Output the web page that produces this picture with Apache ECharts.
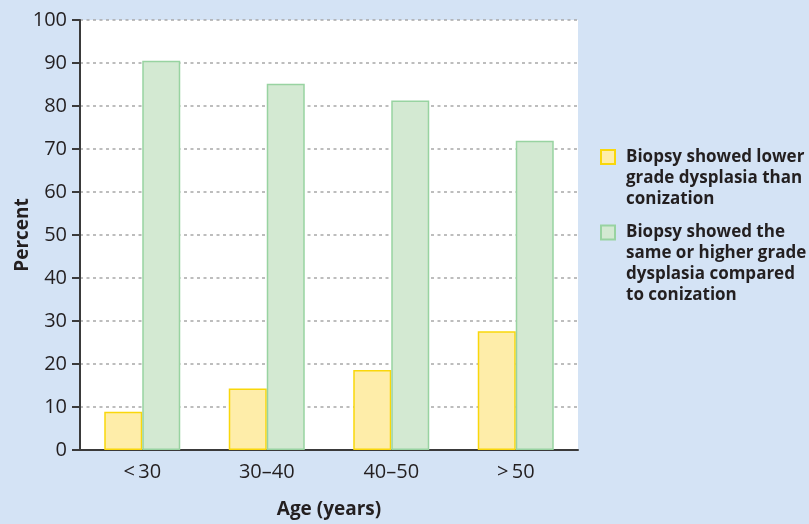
<!DOCTYPE html>
<html>
<head>
<meta charset="utf-8">
<script src="https://cdn.jsdelivr.net/npm/echarts@6/dist/echarts.min.js"></script>
<style>
html,body{margin:0;padding:0;background:#d4e3f5;}
#chart{width:809px;height:524px;}
</style>
</head>
<body>
<div id="chart"></div>
<script>
const categories = ['<\u200930', '30\u201340', '40\u201350', '>\u200950'];
const lowerGrade = [8.9, 14.3, 18.6, 27.6];
const sameOrHigher = [90.5, 85.2, 81.3, 71.9];
const yTicks = [0, 10, 20, 30, 40, 50, 60, 70, 80, 90, 100];
const seriesNames = [
  'Biopsy showed lower\ngrade dysplasia than\nconization',
  'Biopsy showed the\nsame or higher grade\ndysplasia compared\nto conization'
];

const font = 'Open Sans';
const textColor = '#231f20';
const lineH = 21;
const maxLines = 4;
const boxH = maxLines * lineH;
// legend icon: 14px square aligned with the first text line of each entry
function iconFor(name) {
  const lines = name.split('\n').length;
  const top = (boxH - lines * lineH) / 2 + (lineH - 14) / 2;
  return 'path://M0 0 M0 ' + top + ' h14 v14 h-14 Z M20 ' + boxH;
}

const chart = echarts.init(document.getElementById('chart'));
chart.setOption({
  backgroundColor: '#d4e3f5',
  animation: false,
  grid: {left: 80, right: 231, top: 20, bottom: 74, show: true, backgroundColor: '#ffffff', borderWidth: 0,
         containLabel: false, outerBoundsMode: 'none'},
  legend: {
    orient: 'vertical',
    left: 595,
    top: 130,
    itemWidth: 20,
    itemHeight: boxH,
    itemGap: 0,
    textStyle: {fontFamily: font, fontWeight: 'bold', fontSize: 17, color: textColor, lineHeight: lineH},
    data: seriesNames.map(function (n) {
      return {name: n, icon: iconFor(n)};
    })
  },
  xAxis: {
    type: 'category',
    data: categories,
    name: 'Age (years)',
    nameLocation: 'middle',
    nameGap: 50,
    nameTextStyle: {fontFamily: font, fontWeight: 'bold', fontSize: 19, color: textColor},
    axisLine: {lineStyle: {color: '#3a3a3a', width: 2}},
    axisTick: {length: 8, lineStyle: {color: '#3a3a3a', width: 2}},
    axisLabel: {fontFamily: font, fontSize: 20, color: textColor, margin: 12}
  },
  yAxis: {
    type: 'value',
    min: yTicks[0],
    max: yTicks[yTicks.length - 1],
    interval: 10,
    name: 'Percent',
    nameLocation: 'middle',
    nameGap: 48,
    nameMoveOverlap: false,
    nameTextStyle: {fontFamily: font, fontWeight: 'bold', fontSize: 19, color: textColor},
    axisLine: {show: true, lineStyle: {color: '#3a3a3a', width: 2}},
    axisTick: {show: true, length: 8, lineStyle: {color: '#3a3a3a', width: 2}},
    axisLabel: {fontFamily: font, fontSize: 20, color: textColor, margin: 13},
    splitLine: {show: true, lineStyle: {color: '#a8a8a8', width: 1.5, type: [3, 3.5]}}
  },
  series: [
    {
      name: seriesNames[0],
      type: 'bar',
      data: lowerGrade,
      barWidth: 38,
      barGap: '0%',
      itemStyle: {color: '#feeda9', borderColor: '#f9d70b', borderWidth: 1.5}
    },
    {
      name: seriesNames[1],
      type: 'bar',
      data: sameOrHigher,
      barWidth: 38,
      barGap: '0%',
      itemStyle: {color: '#d3e9d2', borderColor: '#98d3a1', borderWidth: 1.5}
    }
  ]
});
</script>
</body>
</html>
